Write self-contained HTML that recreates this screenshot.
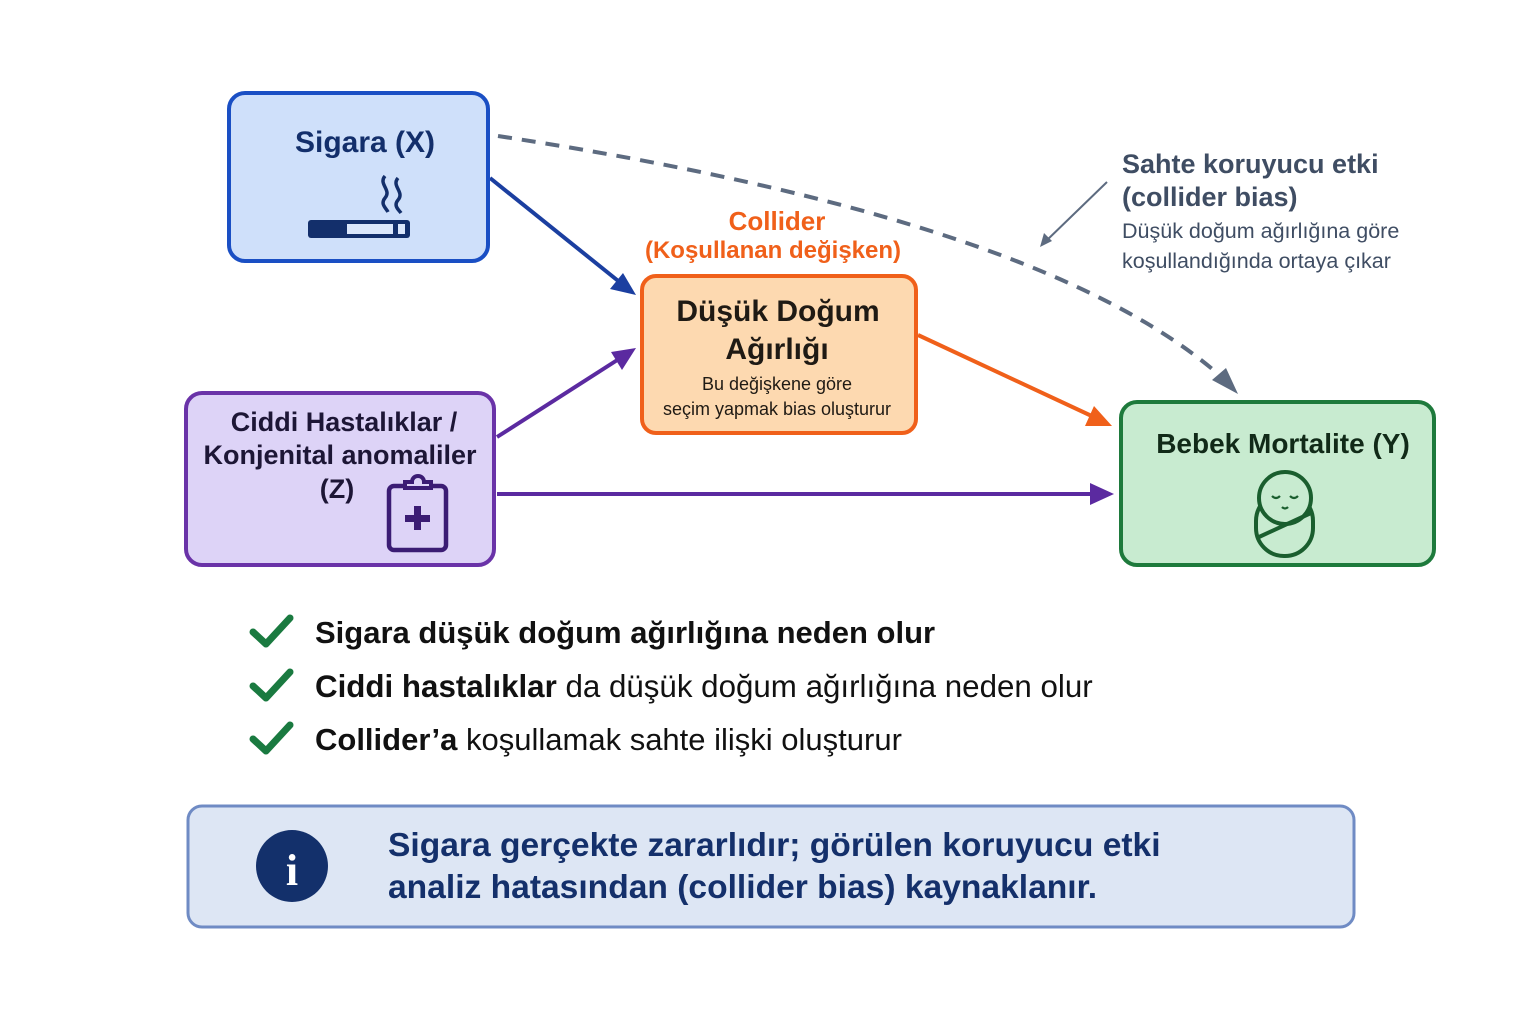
<!DOCTYPE html>
<html><head><meta charset="utf-8"><style>
html,body{margin:0;padding:0;background:#fff;}
svg{display:block;font-family:"Liberation Sans","DejaVu Sans",sans-serif;}
</style></head><body>
<svg width="1536" height="1024" viewBox="0 0 1536 1024" xmlns="http://www.w3.org/2000/svg">
<!-- dashed curve -->
<path d="M498,136 Q1050,220 1226,381" fill="none" stroke="#5d6b80" stroke-width="4" stroke-dasharray="14,10"/>
<path d="M1238,394 L1212,380 L1226,368 z" fill="#5d6b80"/>
<!-- small annotation arrow -->
<line x1="1107" y1="182" x2="1044" y2="243" stroke="#5d6b80" stroke-width="2"/>
<path d="M1040,247 L1044,233 L1052,241 z" fill="#5d6b80"/>
<!-- arrows -->
<line x1="490" y1="178" x2="622" y2="284" stroke="#1b3fa0" stroke-width="4"/>
<path d="M636,295 L610,289 L623,273 z" fill="#1b3fa0"/>
<line x1="497" y1="437" x2="622" y2="357" stroke="#5b2aa0" stroke-width="4"/>
<path d="M636,348 L622,370 L611,352 z" fill="#5b2aa0"/>
<line x1="497" y1="494" x2="1098" y2="494" stroke="#5b2aa0" stroke-width="4"/>
<path d="M1114,494 L1090,483 L1090,505 z" fill="#5b2aa0"/>
<line x1="918" y1="335" x2="1096" y2="418" stroke="#f0601a" stroke-width="4"/>
<path d="M1112,426 L1085,426 L1094,406 z" fill="#f0601a"/>
<!-- Sigara box -->
<rect x="229" y="93" width="259" height="168" rx="16" fill="#cfe0fa" stroke="#1a4fc4" stroke-width="4"/>
<text x="365" y="152" text-anchor="middle" font-size="30" font-weight="bold" fill="#132f6b">Sigara (X)</text>
<rect x="308" y="220" width="102" height="18" rx="3" fill="#132f6b"/>
<rect x="347" y="224" width="46" height="10" fill="#dbe7fb"/>
<rect x="398" y="224" width="7" height="10" fill="#dbe7fb"/>
<path d="M385,176 C378,184 392,190 385,198 C380,204 386,208 388,212" fill="none" stroke="#132f6b" stroke-width="3.5"/>
<path d="M398,178 C391,186 405,192 398,200 C393,206 399,210 401,213" fill="none" stroke="#132f6b" stroke-width="3.5"/>
<!-- Ciddi box -->
<rect x="186" y="393" width="308" height="172" rx="16" fill="#ddd3f7" stroke="#6a33a8" stroke-width="4"/>
<text x="344" y="431" text-anchor="middle" font-size="27" font-weight="bold" fill="#1d1636">Ciddi Hastalıklar /</text>
<text x="340" y="464" text-anchor="middle" font-size="27" font-weight="bold" fill="#1d1636">Konjenital anomaliler</text>
<text x="337" y="498" text-anchor="middle" font-size="27" font-weight="bold" fill="#1d1636">(Z)</text>
<rect x="389" y="486" width="57" height="64" rx="5" fill="none" stroke="#3b1c74" stroke-width="4.5"/>
<path d="M405,488 L405,482 L412,482 C412,474 424,474 424,482 L431,482 L431,488 z" fill="#ddd3f7" stroke="#3b1c74" stroke-width="4"/>
<rect x="414" y="506" width="7" height="24" fill="#3b1c74"/>
<rect x="405" y="515" width="25" height="7" fill="#3b1c74"/>
<!-- Collider -->
<text x="777" y="230" text-anchor="middle" font-size="26" font-weight="bold" fill="#f0601a">Collider</text>
<text x="773" y="258" text-anchor="middle" font-size="24" font-weight="bold" fill="#f0601a">(Koşullanan değişken)</text>
<rect x="642" y="276" width="274" height="157" rx="14" fill="#fdd9b0" stroke="#f0601a" stroke-width="4"/>
<text x="778" y="321" text-anchor="middle" font-size="30" font-weight="bold" fill="#1f1a14">Düşük Doğum</text>
<text x="777" y="359" text-anchor="middle" font-size="30" font-weight="bold" fill="#1f1a14">Ağırlığı</text>
<text x="777" y="390" text-anchor="middle" font-size="18" fill="#1f1a14">Bu değişkene göre</text>
<text x="777" y="415" text-anchor="middle" font-size="18" fill="#1f1a14">seçim yapmak bias oluşturur</text>
<!-- Bebek -->
<rect x="1121" y="402" width="313" height="163" rx="16" fill="#c8ebd0" stroke="#1e7a3c" stroke-width="4"/>
<text x="1283" y="453" text-anchor="middle" font-size="28" font-weight="bold" fill="#112a18">Bebek Mortalite (Y)</text>
<rect x="1256" y="493" width="57" height="63" rx="28" fill="none" stroke="#1a5e2e" stroke-width="4"/>
<circle cx="1285" cy="498" r="26" fill="#c8ebd0" stroke="#1a5e2e" stroke-width="4"/>
<path d="M1259,537 L1311,513" stroke="#1a5e2e" stroke-width="4"/>
<path d="M1272,496 q4,4 8,0 M1290,496 q4,4 8,0 M1282,507 q3,3 6,0" fill="none" stroke="#1a5e2e" stroke-width="2.2"/>
<!-- annotation -->
<text x="1122" y="173" font-size="27" font-weight="bold" fill="#3f4d63">Sahte koruyucu etki</text>
<text x="1122" y="206" font-size="27" font-weight="bold" fill="#3f4d63">(collider bias)</text>
<text x="1122" y="238" font-size="21.5" fill="#3f4d63">Düşük doğum ağırlığına göre</text>
<text x="1122" y="268" font-size="21.5" fill="#3f4d63">koşullandığında ortaya çıkar</text>
<!-- checks -->
<g stroke="#1a7a40" stroke-width="7" fill="none" stroke-linecap="round" stroke-linejoin="round">
<path d="M253,632 L266,644 L290,618"/>
<path d="M253,686 L266,698 L290,672"/>
<path d="M253,739 L266,751 L290,725"/>
</g>
<text x="315" y="643" font-size="31" fill="#111"><tspan font-weight="bold">Sigara düşük doğum ağırlığına neden olur</tspan></text>
<text x="315" y="697" font-size="31.3" fill="#111"><tspan font-weight="bold">Ciddi hastalıklar</tspan> da düşük doğum ağırlığına neden olur</text>
<text x="315" y="750" font-size="31" fill="#111"><tspan font-weight="bold">Collider’a</tspan> koşullamak sahte ilişki oluşturur</text>
<!-- info -->
<rect x="188" y="806" width="1166" height="121" rx="14" fill="#dde6f4" stroke="#6f8bc4" stroke-width="3"/>
<circle cx="292" cy="866" r="36" fill="#13306b"/>
<text x="292" y="885" text-anchor="middle" font-size="44" font-weight="bold" fill="#fff" font-family="Liberation Serif,serif">i</text>
<text x="388" y="856" font-size="33.6" font-weight="bold" fill="#14306b">Sigara gerçekte zararlıdır; görülen koruyucu etki</text>
<text x="388" y="898" font-size="33.6" font-weight="bold" fill="#14306b">analiz hatasından (collider bias) kaynaklanır.</text>
</svg>
</body></html>
